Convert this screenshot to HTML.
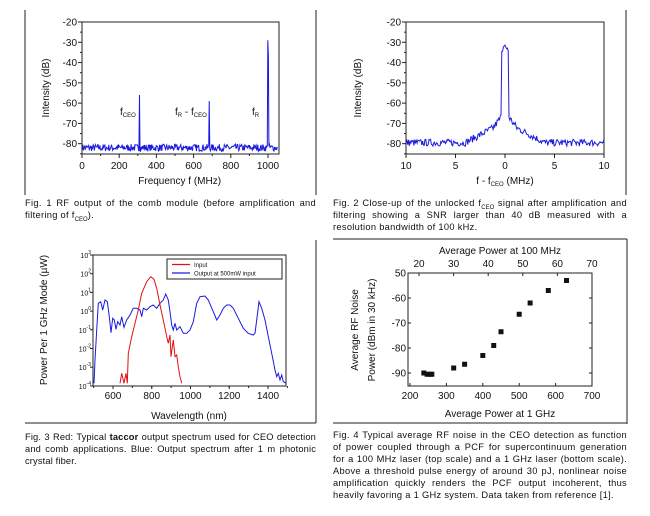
<!DOCTYPE html>
<html><head><meta charset="utf-8"><style>
html,body{margin:0;padding:0;background:#fff;}
body{width:650px;height:516px;position:relative;overflow:hidden;font-family:"Liberation Sans","DejaVu Sans",sans-serif;}
.cap{position:absolute;font-size:9.3px;line-height:12px;text-align:justify;color:#111;letter-spacing:0.3px;}
.sb{font-size:6px;position:relative;top:3px;line-height:0;letter-spacing:0;}
svg{position:absolute;left:0;top:0;}
svg text{font-family:"Liberation Sans","DejaVu Sans",sans-serif;fill:#111;}
</style></head><body>
<svg id="s" width="650" height="516" viewBox="0 0 650 516">
<g stroke="#222" stroke-width="1" fill="none">
<line x1="25" y1="10" x2="25" y2="195"/>
<line x1="316" y1="10" x2="316" y2="195"/>
<line x1="626" y1="10" x2="626" y2="195"/>
<line x1="316" y1="240" x2="316" y2="423"/>
<line x1="25" y1="423" x2="316" y2="423"/>
<line x1="333" y1="239" x2="627" y2="239"/>
<line x1="627" y1="239" x2="627" y2="424"/>
<line x1="333" y1="423" x2="627" y2="423"/>
</g>
<g id="g"></g>
</svg>
<div class="cap" style="left:25px;top:197px;width:291px;">Fig. 1 RF output of the comb module (before amplification and filtering of f<span class="sb">CEO</span>).</div>
<div class="cap" style="left:333px;top:197px;width:294px;">Fig. 2 Close-up of the unlocked f<span class="sb">CEO</span> signal after amplification and filtering showing a SNR larger than 40 dB measured with a resolution bandwidth of 100 kHz.</div>
<div class="cap" style="left:25px;top:431px;width:291px;letter-spacing:0.15px;">Fig. 3 Red: Typical <b>taccor</b> output spectrum used for CEO detection and comb applications. Blue: Output spectrum after 1 m photonic crystal fiber.</div>
<div class="cap" style="left:333px;top:429px;width:294px;">Fig. 4 Typical average RF noise in the CEO detection as function of power coupled through a PCF for supercontinuum generation for a 100 MHz laser (top scale) and a 1 GHz laser (bottom scale). Above a threshold pulse energy of around 30 pJ, nonlinear noise amplification quickly renders the PCF output incoherent, thus heavily favoring a 1 GHz system. Data taken from reference [1].</div>
<script>
var g=document.getElementById('g'),h='';
var seed=7;function rnd(){seed=(seed*16807)%2147483647;return seed/2147483647;}
function T(x,y,t,a,sz,extra){h+='<text x="'+x+'" y="'+y+'" font-size="'+(sz||10)+'" text-anchor="'+(a||'middle')+'" '+(extra||'')+'>'+t+'</text>';}
function L(x1,y1,x2,y2,c,w){h+='<line x1="'+x1+'" y1="'+y1+'" x2="'+x2+'" y2="'+y2+'" stroke="'+(c||'#222')+'" stroke-width="'+(w||1)+'"/>';}
function P(pts,c,w){h+='<polyline fill="none" stroke="'+c+'" stroke-width="'+(w||1)+'" points="'+pts.map(function(p){return p[0].toFixed(1)+','+p[1].toFixed(1)}).join(' ')+'"/>';}
function box(x0,y0,x1,y1){h+='<rect x="'+x0+'" y="'+y0+'" width="'+(x1-x0)+'" height="'+(y1-y0)+'" fill="none" stroke="#222"/>';}
// Fig1
(function(){var x0=82,x1=279,y0=22,y1=154;
var fx=function(f){return 82+f*0.186},fy=function(d){return 22+(-20-d)*2.028};
var pts=[];for(var f=0;f<=1050;f+=3){var d=-82+ (rnd()-0.5)*3.5;
if(Math.abs(f-310)<2)d=-56;if(Math.abs(f-685)<2)d=-59;if(Math.abs(f-1000)<2)d=-29;if(Math.abs(f-1003)<1.6)d=-37;
pts.push([fx(f),fy(d)]);}
P(pts,'#1a1adf',1);
box(x0,y0,x1,y1);
for(var d=-20;d>=-80;d-=10){var y=fy(d);L(x0-4,y,x0,y);T(x0-5,y+3.5,''+d,'end');}
for(var d=-25;d>=-85;d-=10){L(x0-2,fy(d),x0,fy(d));}
for(var f=0;f<=1000;f+=200){var x=fx(f);L(x,y1,x,y1+4);T(x,y1+15,f);}
for(var f=100;f<=1000;f+=200){L(fx(f),y1,fx(f),y1+2);}
T(fx(525),y1+30,'Frequency f (MHz)');
T(0,0,'Intensity (dB)','middle',10,'transform="translate(49,88) rotate(-90)"');
T(120,115,'f<tspan font-size="6" dy="2">CEO</tspan>','start');
T(175,115,'f<tspan font-size="6" dy="2">R</tspan><tspan dy="-2"> - f</tspan><tspan font-size="6" dy="2">CEO</tspan>','start');
T(252,115,'f<tspan font-size="6" dy="2">R</tspan>','start');
})();
// Fig2
(function(){var x0=406,x1=604,y0=22,y1=154;
var fx=function(f){return 505+f*9.9},fy=function(d){return 22+(-20-d)*2.028};
var pts=[];for(var f=-10;f<=10.01;f+=0.08){var a=Math.abs(f);
var base=-79.5+ (a<4? (4-a)*2.6:0);if(a<1.2)base+= (1.2-a)*4;
var d=base+(rnd()-0.5)*3.5;if(a<0.35)d=-32-a*6+(rnd()-0.5)*2;
pts.push([fx(f),fy(d)]);}
P(pts,'#1a1adf',1);
box(x0,y0,x1,y1);
for(var d=-20;d>=-80;d-=10){var y=fy(d);L(x0-4,y,x0,y);T(x0-5,y+3.5,''+d,'end');}
for(var d=-25;d>=-85;d-=10){L(x0-2,fy(d),x0,fy(d));}
var lab=['10','5','0','5','10'];for(var i=0;i<5;i++){var x=fx(-10+5*i);L(x,y1,x,y1+4);T(x,y1+15,lab[i]);}
T(505,y1+30,'f - f<tspan font-size="6" dy="2">CEO</tspan><tspan dy="-2"> (MHz)</tspan>');
T(0,0,'Intensity (dB)','middle',10,'transform="translate(361,88) rotate(-90)"');
})();
// Fig3
(function(){var x0=93,x1=286,y0=255,y1=386;
var z=function(a){return a.map(function(p){return [p[0]/3,240+p[1]/3]})};
var blue=[[282,430],[285,360],[290,270],[295,190],[302,185],[308,210],[315,180],[322,185],[328,230],[333,278],[338,235],[343,240],[348,268],[353,245],[360,255],[365,230],[372,262],[380,240],[390,225],[400,205],[410,205],[420,210],[425,230],[430,205],[440,210],[450,200],[460,195],[470,205],[480,190],[490,180],[497,162],[505,180],[510,215],[515,255],[520,270],[525,250],[530,270],[540,260],[550,280],[560,280],[570,270],[580,245],[590,190],[600,170],[615,168],[625,180],[640,215],[650,240],[660,225],[670,205],[680,195],[690,195],[700,205],[715,235],[730,265],[745,280],[760,285],[765,280],[770,240],[777,185],[785,205],[795,240],[805,290],[815,340],[825,390],[830,410],[835,400],[840,420],[845,405],[850,425],[858,430]];
var red=[[360,430],[365,400],[372,430],[378,400],[382,430],[385,340],[395,290],[405,250],[415,210],[425,160],[440,125],[452,110],[462,118],[470,145],[480,195],[490,240],[495,265],[500,290],[505,310],[510,285],[513,350],[520,300],[525,350],[530,345],[535,380],[540,410],[545,430]];
P(z(blue),'#1a1adf',1);P(z(red),'#e01010',1);
box(x0,y0,x1,y1);
var ex=['3','2','1','0','-1','-2','-3','-4'];
for(var i=0;i<8;i++){var y=y0+i*18.7;L(x0-3,y,x0,y);T(x0-2,y+3,'10<tspan font-size="5" dy="-4">'+ex[i]+'</tspan>','end',7);}
var fx=function(w){return 113+(w-600)*0.19375};
for(var w=600;w<=1400;w+=200){var x=fx(w);L(x,y1,x,y1+3);T(x,y1+13,w);}
for(var w=500;w<=1500;w+=100){L(fx(w),y1,fx(w),y1+2);}
T(189,y1+33,'Wavelength (nm)');
T(0,0,'Power Per 1 GHz Mode (µW)','middle',10,'transform="translate(47,320) rotate(-90)"');
box(167,259,282,279);
L(172,264.5,190,264.5,'#e01010',1.2);T(194,267,'Input','start',6);
L(172,273,190,273,'#1a1adf',1.2);T(194,275.5,'Output at 500mW input','start',6);
})();
// Fig4
(function(){var x0=408,x1=592,y0=273,y1=386;
var fx=function(p){return 410+(p-200)*0.364},fy=function(d){return 273+(-50-d)*2.5};
box(x0,y0,x1,y1);
for(var d=-50;d>=-90;d-=10){var y=fy(d);L(x0,y,x0+3,y);L(x1-3,y,x1,y);T(x0-2,y+3.5,d==-50?'50':''+d,'end');}
for(var p=200;p<=700;p+=100){var x=fx(p);L(x,y1,x,y1-3);T(x,y1+13,p);}
var tx=function(v){return 419+(v-20)*3.46};
for(var v=20;v<=70;v+=10){var x=tx(v);L(x,y0,x,y0+3);T(x,y0-6,v);}
T(500,254,'Average Power at 100 MHz');
T(500,417,'Average Power at 1 GHz');
T(0,0,'Average RF Noise','middle',10,'transform="translate(358,330) rotate(-90)"');
T(0,0,'Power (dBm in 30 kHz)','middle',10,'transform="translate(375,330) rotate(-90)"');
var d=[[238,-90],[247,-90.5],[255,-90.5],[260,-90.5],[320,-88],[350,-86.5],[400,-83],[430,-79],[450,-73.5],[500,-66.5],[530,-62],[580,-57],[630,-53]];
d.forEach(function(q){var x=fx(q[0]),y=fy(q[1]);h+='<rect x="'+(x-2.5)+'" y="'+(y-2.5)+'" width="5" height="5" fill="#111"/>';});
})();
g.innerHTML=h;
</script>
</body></html>
